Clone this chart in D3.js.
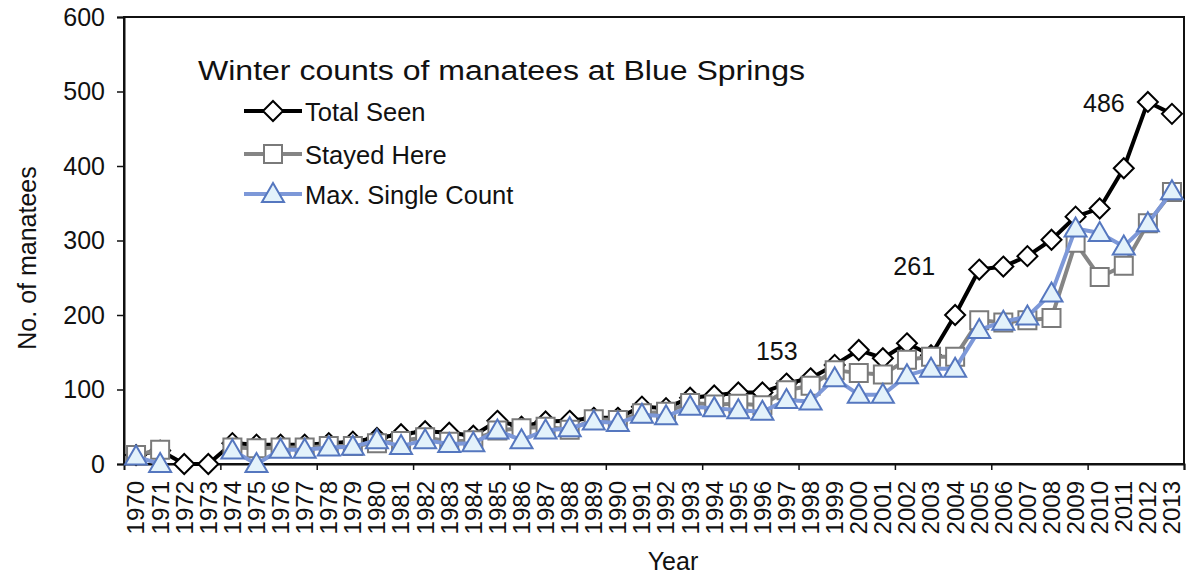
<!DOCTYPE html>
<html>
<head>
<meta charset="utf-8">
<script src="https://cdn.jsdelivr.net/npm/d3@7"></script>
<style>
  body { margin: 0; background: #fff; }
  svg { display: block; font-family: "Liberation Sans", Arial, sans-serif; }
</style>
</head>
<body>
<svg id="chart" width="1187" height="576"></svg>
<script>
// ---- data ----
const years = d3.range(1970, 2014);
const totalSeen = [12, 18, 0, 0, 28, 26, 26, 26, 28, 30, 35, 40, 44, 42, 38, 58, 50, 57, 58, 62, 62, 77, 75, 89, 92, 96, 96, 108, 115, 133, 153, 142, 162, 146, 200, 261, 265, 279, 301, 332, 343, 397, 486, 470];
const stayedHere = [12, 19, null, null, 22, 21, 22, 22, 24, 24, 28, 31, 36, 30, 32, 45, 48, 50, 46, 60, 59, 68, 70, 82, 80, 81, 79, 99, 105, 126, 122, 120, 140, 144, 144, 193, 190, 193, 196, 297, 251, 266, 323, 365];
const maxSingle = [10, 0, null, null, 18, 0, 19, 19, 22, 23, 32, 24, 32, 27, 28, 45, 32, 45, 48, 57, 55, 66, 64, 77, 75, 72, 70, 86, 84, 115, 93, 93, 119, 128, 128, 180, 191, 198, 229, 316, 310, 292, 323, 366];
const yTicks = [0, 100, 200, 300, 400, 500, 600];
const seriesNames = ["Total Seen", "Stayed Here", "Max. Single Count"];
const chartTitle = "Winter counts of manatees at Blue Springs";
const annotations = [{ year: 2000, text: "153" }, { year: 2005, text: "261" }, { year: 2012, text: "486" }];

// ---- layout ----
const svg = d3.select("#chart");
const L = 124, R = 1184, T = 17, B = 464;
const FONT = "Liberation Sans, Arial, sans-serif";
const x = d3.scaleBand().domain(years).range([L, R]).padding(0);
const cx = yr => x(yr) + x.bandwidth() / 2;
const idx = d3.scaleLinear().domain([0, years.length]).range([L, R]);
const y = d3.scaleLinear().domain([0, 600]).range([B, T]);

// frame
svg.append("rect").attr("x", L).attr("y", T).attr("width", R - L).attr("height", B - T)
  .attr("fill", "none").attr("stroke", "#111").attr("stroke-width", 2);

// y axis
const ya = svg.append("g").attr("transform", `translate(${L},0)`)
  .call(d3.axisLeft(y).tickValues(yTicks).tickSize(7).tickPadding(12));
ya.select(".domain").attr("stroke", "#111").attr("stroke-width", 2);
ya.selectAll(".tick line").attr("stroke", "#111").attr("stroke-width", 1.5);
ya.selectAll("text").attr("font-size", 25).attr("fill", "#111").attr("font-family", FONT);

// x axis ticks at category boundaries every 4
const xt = svg.append("g").attr("transform", `translate(0,${B})`)
  .call(d3.axisBottom(idx).tickValues(d3.range(4, years.length + 1, 4)).tickSize(6).tickFormat(""));
xt.select(".domain").attr("stroke", "#111").attr("stroke-width", 2);
xt.selectAll(".tick line").attr("stroke", "#111").attr("stroke-width", 1.5);

// x labels
const xl = svg.append("g").attr("transform", `translate(0,${B})`)
  .call(d3.axisBottom(x).tickSize(0).tickFormat(d => String(d)));
xl.select(".domain").remove();
xl.selectAll("text")
  .attr("font-size", 24).attr("fill", "#111").attr("font-family", FONT)
  .attr("text-anchor", "end")
  .attr("transform", "translate(0,17) rotate(-90)")
  .attr("x", 0).attr("y", 0).attr("dy", "0.35em");

// axis titles
svg.append("text").attr("x", 673).attr("y", 570).attr("text-anchor", "middle")
  .attr("font-size", 25).attr("fill", "#111").text("Year");
svg.append("text").attr("transform", "translate(36,258) rotate(-90)").attr("text-anchor", "middle")
  .attr("font-size", 25).attr("fill", "#111").text("No. of manatees");

// series
const styles = [
  { color: "#000", width: 4, marker: "diamond", fill: "#fff", mstroke: "#000" },
  { color: "#858585", width: 4, marker: "square", fill: "#fff", mstroke: "#7a7a7a" },
  { color: "#7d98d8", width: 4, marker: "triangle", fill: "#e3f2fb", mstroke: "#5577bf" }
];
const seriesData = [totalSeen, stayedHere, maxSingle];

function markerPath(type) {
  if (type === "diamond") return "M0,-10L10,0L0,10L-10,0Z";
  if (type === "square") return "M-9,-9H9V9H-9Z";
  return "M0,-11L11,8L-11,8Z";
}

const line = d3.line().defined(d => d.v !== null).x(d => cx(d.yr)).y(d => y(d.v));

seriesData.forEach((vals, i) => {
  const st = styles[i];
  const pts = years.map((yr, j) => ({ yr, v: vals[j] }));
  const g = svg.append("g");
  g.append("path").datum(pts).attr("d", line).attr("fill", "none")
    .attr("stroke", st.color).attr("stroke-width", st.width).attr("stroke-linejoin", "round");
  g.selectAll("path.m").data(pts.filter(d => d.v !== null)).enter().append("path")
    .attr("class", "m")
    .attr("d", markerPath(st.marker))
    .attr("transform", d => `translate(${cx(d.yr)},${y(d.v)})`)
    .attr("fill", st.fill).attr("stroke", st.mstroke).attr("stroke-width", 2);
});

// annotations
const annOffsets = [[-82, 10], [-65, 5], [-44, 10]];
annotations.forEach((a, i) => {
  const j = years.indexOf(a.year);
  svg.append("text")
    .attr("x", cx(a.year) + annOffsets[i][0]).attr("y", y(totalSeen[j]) + annOffsets[i][1])
    .attr("text-anchor", "middle").attr("font-size", 25).attr("fill", "#111").text(a.text);
});

// legend
svg.append("text").attr("x", 198).attr("y", 80).attr("font-size", 27).attr("fill", "#111")
  .attr("textLength", 607).attr("lengthAdjust", "spacingAndGlyphs")
  .text(chartTitle);
const legY = [111, 154, 194];
seriesNames.forEach((name, i) => {
  const st = styles[i];
  const g = svg.append("g").attr("transform", `translate(0,${legY[i]})`);
  g.append("line").attr("x1", 244).attr("x2", 302).attr("y1", 0).attr("y2", 0)
    .attr("stroke", st.color).attr("stroke-width", st.width);
  g.append("path").attr("d", markerPath(st.marker)).attr("transform", "translate(273,0)")
    .attr("fill", st.fill).attr("stroke", st.mstroke).attr("stroke-width", 2);
  g.append("text").attr("x", 305).attr("y", 10).attr("font-size", 25.5).attr("fill", "#111").text(name);
});
</script>
</body>
</html>
